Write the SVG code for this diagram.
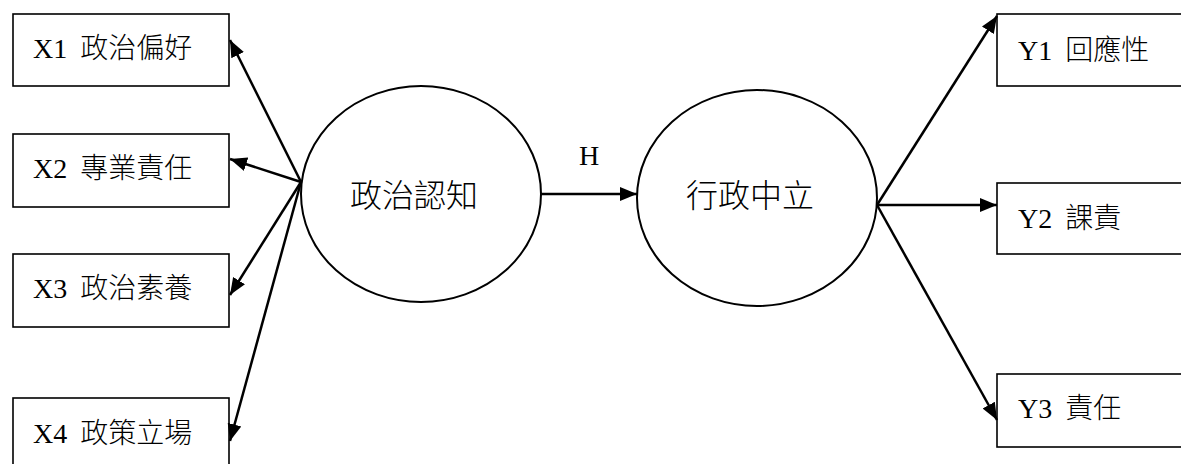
<svg xmlns="http://www.w3.org/2000/svg" width="1181" height="464" viewBox="0 0 1181 464">
  <style>
    .box { fill: #ffffff; stroke: #000000; stroke-width: 1.6; }
    .latent { fill: #ffffff; stroke: #000000; stroke-width: 2; }
    .lbl { font-family: "Liberation Serif", "Noto Sans CJK TC", serif; font-size: 28px; fill: #000000; }
    .cn { font-family: "Noto Sans CJK TC", sans-serif; font-weight: 300; fill: #000000; }
    .big { font-family: "Noto Sans CJK TC", sans-serif; font-weight: 300; font-size: 32px; fill: #000000; }
    .edge { stroke: #000000; stroke-width: 2.5; fill: none; marker-end: url(#head); }
  </style>
  <defs>
    <marker id="head" markerUnits="userSpaceOnUse" markerWidth="18" markerHeight="16" refX="17" refY="8" orient="auto">
      <path d="M0,1 L17,8 L0,15 Z" fill="#000000"/>
    </marker>
  </defs>

  <rect width="1181" height="464" fill="#ffffff"/>

  <!-- observed indicators, left side -->
  <g id="x1">
    <rect class="box" x="13" y="14" width="216" height="72"/>
    <text class="lbl" x="33" y="58">X1 <tspan class="cn" dx="6">政治偏好</tspan></text>
  </g>
  <g id="x2">
    <rect class="box" x="13" y="134" width="216" height="73"/>
    <text class="lbl" x="33" y="178">X2 <tspan class="cn" dx="6">專業責任</tspan></text>
  </g>
  <g id="x3">
    <rect class="box" x="13" y="254" width="216" height="73"/>
    <text class="lbl" x="33" y="298">X3 <tspan class="cn" dx="6">政治素養</tspan></text>
  </g>
  <g id="x4">
    <rect class="box" x="13" y="398" width="216" height="80"/>
    <text class="lbl" x="33" y="443">X4 <tspan class="cn" dx="6">政策立場</tspan></text>
  </g>

  <!-- latent constructs -->
  <g id="political-cognition">
    <ellipse class="latent" cx="421" cy="194" rx="120" ry="108"/>
    <text class="big" x="414" y="207" text-anchor="middle">政治認知</text>
  </g>
  <g id="administrative-neutrality">
    <ellipse class="latent" cx="757" cy="198" rx="120" ry="108"/>
    <text class="big" x="750" y="207" text-anchor="middle">行政中立</text>
  </g>

  <!-- observed indicators, right side -->
  <g id="y1">
    <rect class="box" x="997" y="14" width="200" height="72"/>
    <text class="lbl" x="1018" y="60">Y1 <tspan class="cn" dx="6">回應性</tspan></text>
  </g>
  <g id="y2">
    <rect class="box" x="997" y="183" width="200" height="71"/>
    <text class="lbl" x="1018" y="228">Y2 <tspan class="cn" dx="6">課責</tspan></text>
  </g>
  <g id="y3">
    <rect class="box" x="997" y="374" width="200" height="73"/>
    <text class="lbl" x="1018" y="418">Y3 <tspan class="cn" dx="6">責任</tspan></text>
  </g>

  <!-- path label -->
  <text class="lbl" x="589" y="165" text-anchor="middle">H</text>

  <!-- connectors -->
  <g id="connectors">
    <line class="edge" x1="301" y1="182" x2="230" y2="40"/>
    <line class="edge" x1="301" y1="182" x2="230" y2="159"/>
    <line class="edge" x1="301" y1="182" x2="230" y2="295"/>
    <line class="edge" x1="301" y1="182" x2="230" y2="441"/>
    <line class="edge" x1="541" y1="194" x2="637" y2="194"/>
    <line class="edge" x1="877" y1="205" x2="997" y2="16"/>
    <line class="edge" x1="877" y1="205" x2="997" y2="205"/>
    <line class="edge" x1="877" y1="205" x2="997" y2="420"/>
  </g>
</svg>
